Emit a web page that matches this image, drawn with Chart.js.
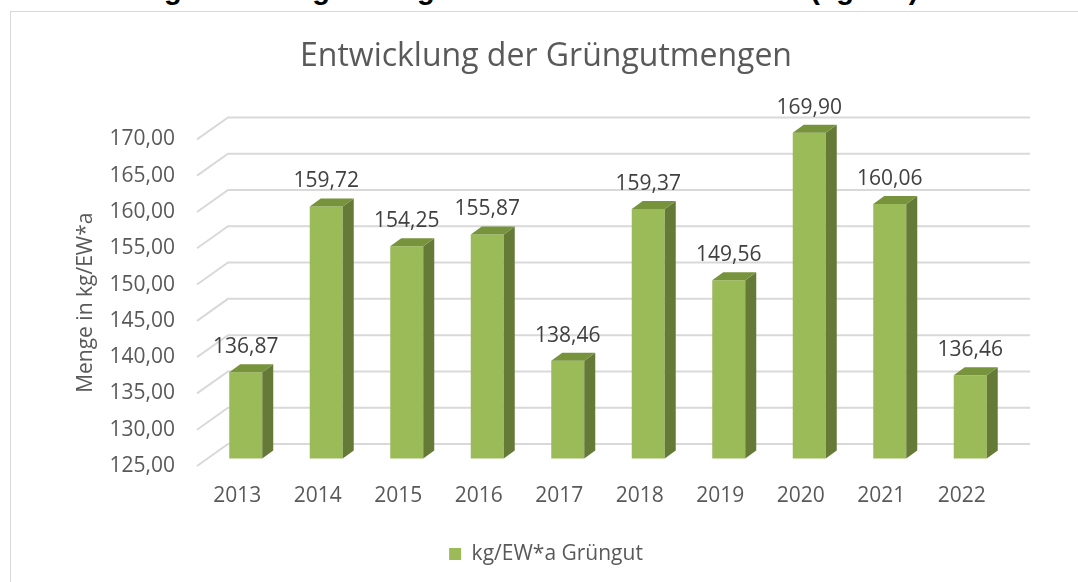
<!DOCTYPE html>
<html>
<head>
<meta charset="utf-8">
<script src="https://cdn.jsdelivr.net/npm/chart.js@4/dist/chart.umd.min.js"></script>
<style>
  body { margin: 0; background: #fff; }
  #wrap { position: relative; width: 1078px; height: 582px; overflow: hidden; }
  #heading {
    position: absolute; left: 11px; top: -25.5px; white-space: nowrap;
    font: bold 29px "Liberation Sans", Arial, sans-serif; line-height: 29px; color: #000;
  }
  #frame {
    position: absolute; left: 10px; top: 11px; width: 1100px; height: 600px;
    border-left: 1px solid #d9d9d9; border-top: 1px solid #d9d9d9;
  }
  canvas { position: absolute; left: 0; top: 0; }
</style>
</head>
<body>
<div id="wrap">
  <div id="heading">Entwicklung der Grüngutmengen der Jahre 2013 bis 2022 (kg/EW)</div>
  <div id="frame"></div>
  <canvas id="gruengutChart" width="1078" height="582"></canvas>
</div>
<script>
const years = ["2013", "2014", "2015", "2016", "2017", "2018", "2019", "2020", "2021", "2022"];
const kgProEW = [136.87, 159.72, 154.25, 155.87, 138.46, 159.37, 149.56, 169.90, 160.06, 136.46];
const yMin = 125;
const yMax = 170;
const yStep = 5;

// 3D look
const depthX = 31, depthY = 22;   // back wall offset
const barShiftX = 8.5, barShiftY = -7.5;
const sideX = 11, sideY = 8;

function fmt(v) {
  return v.toFixed(2).replace(".", ",");
}

const bar3d = {
  id: "bar3d",
  beforeDatasetsDraw(chart) {
    const ctx = chart.ctx;
    const area = chart.chartArea;
    const y = chart.scales.y;
    ctx.save();
    ctx.strokeStyle = "#d9d9d9";
    ctx.lineWidth = 2;
    y.ticks.forEach((t) => {
      const py = y.getPixelForValue(t.value);
      ctx.beginPath();
      ctx.moveTo(area.left, py);
      ctx.lineTo(area.left + depthX, py - depthY);
      ctx.lineTo(area.right + depthX - 3, py - depthY);
      ctx.stroke();
    });
    ctx.restore();
    ctx.save();
    ctx.translate(barShiftX, barShiftY);
  },
  afterDatasetsDraw(chart) {
    const ctx = chart.ctx;
    ctx.restore();
    const meta = chart.getDatasetMeta(0);
    ctx.save();
    meta.data.forEach((bar, i) => {
      const left = bar.x - bar.width / 2 + barShiftX;
      const right = bar.x + bar.width / 2 + barShiftX;
      const top = bar.y + barShiftY;
      const bottom = bar.base + barShiftY;
      // side face
      ctx.fillStyle = "#667a38";
      ctx.beginPath();
      ctx.moveTo(right, top);
      ctx.lineTo(right + sideX, top - sideY);
      ctx.lineTo(right + sideX, bottom - sideY);
      ctx.lineTo(right, bottom);
      ctx.closePath();
      ctx.fill();
      // top face
      ctx.fillStyle = "#77933c";
      ctx.beginPath();
      ctx.moveTo(left, top);
      ctx.lineTo(left + sideX, top - sideY);
      ctx.lineTo(right + sideX, top - sideY);
      ctx.lineTo(right, top);
      ctx.closePath();
      ctx.fill();
      // value label
      ctx.fillStyle = "#404040";
      ctx.font = '21px "Open Sans"';
      ctx.textAlign = "center";
      ctx.textBaseline = "middle";
      ctx.fillText(fmt(kgProEW[i]), bar.x + barShiftX, top - 25);
    });
    ctx.restore();
  },
};

new Chart(document.getElementById("gruengutChart"), {
  type: "bar",
  data: {
    labels: years,
    datasets: [
      {
        label: "kg/EW*a Grüngut",
        data: kgProEW,
        base: yMin,
        backgroundColor: "#9bbb59",
        borderWidth: 0,
        categoryPercentage: 1,
        barPercentage: 0.41,
        clip: false,
      },
    ],
  },
  options: {
    responsive: false,
    animation: false,
    devicePixelRatio: 1,
    layout: { padding: { left: 14, right: 0, top: 0, bottom: 7.5 } },
    plugins: {
      title: {
        display: true,
        text: "Entwicklung der Grüngutmengen",
        color: "#595959",
        font: { family: "Open Sans", size: 32, weight: "normal" },
        padding: { top: 38, bottom: 63 },
      },
      legend: {
        position: "bottom",
        labels: {
          color: "#595959",
          font: { family: "Open Sans", size: 21 },
          boxWidth: 12,
          boxHeight: 12,
          padding: 10,
        },
      },
      tooltip: { enabled: false },
    },
    scales: {
      x: {
        grid: { display: false, drawTicks: false },
        border: { display: false },
        ticks: { color: "#595959", font: { family: "Open Sans", size: 21 }, padding: 17 },
        afterFit(s) { s.height = 67.5; },
      },
      y: {
        min: yMin,
        max: yMax,
        beginAtZero: false,
        grid: { display: false, drawTicks: false },
        border: { display: false },
        ticks: {
          stepSize: yStep,
          color: "#595959",
          font: { family: "Open Sans", size: 21 },
          padding: 22,
          callback: (v) => fmt(v),
        },
        title: {
          display: true,
          text: "Menge in kg/EW*a",
          color: "#595959",
          font: { family: "Open Sans", size: 21 },
          padding: { top: 59, bottom: 0 },
        },
        afterFit(s) { s.width = 183; },
      },
      y2: {
        position: "right",
        grid: { display: false, drawTicks: false },
        border: { display: false },
        ticks: { display: false },
        afterFit(s) { s.width = 76; },
      },
    },
  },
  plugins: [bar3d],
});
</script>
</body>
</html>
